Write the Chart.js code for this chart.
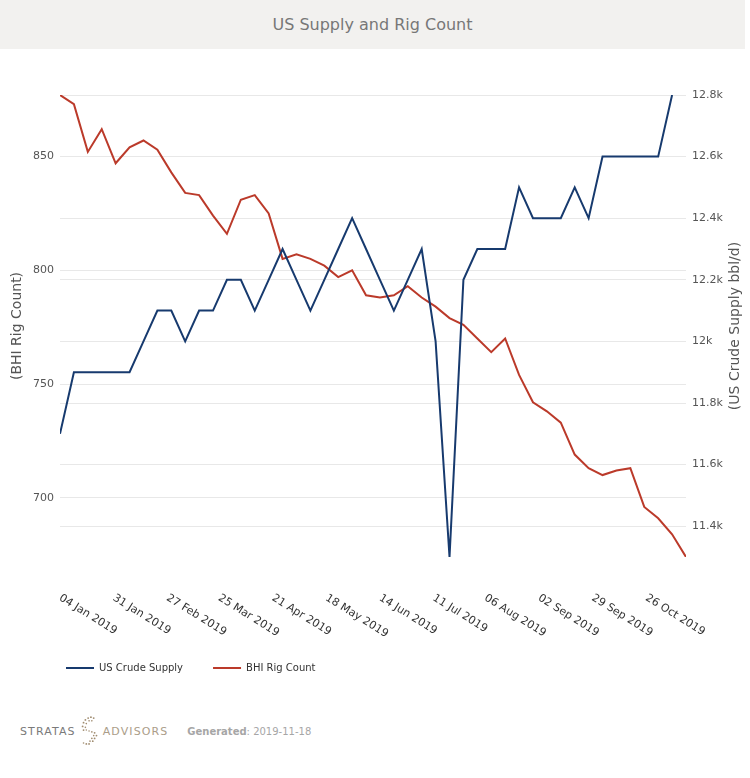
<!DOCTYPE html>
<html>
<head>
<meta charset="utf-8">
<script src="https://cdn.jsdelivr.net/npm/chart.js@4.4.0/dist/chart.umd.min.js"></script>
<style>
html,body{margin:0;padding:0;background:#fff;width:750px;height:778px;overflow:hidden;font-family:"DejaVu Sans",sans-serif;}
#band{position:absolute;left:0;top:0;width:745px;height:49px;background:#f2f1ef;}
#title{position:absolute;left:0;top:0;width:745px;height:49px;line-height:49px;text-align:center;color:#777;font-size:16px;}
#wrap{position:absolute;left:0;top:50px;width:750px;height:633px;}
#footer{position:absolute;left:20px;top:714px;height:34px;display:flex;align-items:center;white-space:nowrap;}
.brand{font-size:11px;letter-spacing:1.1px;font-weight:normal;}
#s1{color:#7a7a7a;}
#s2{color:#ab9d89;}
#gen{margin-left:19px;font-size:10px;color:#a6a6a6;}
#gen b{font-weight:bold;}
</style>
</head>
<body>
<div id="band"></div>
<div id="title">US Supply and Rig Count</div>
<div id="wrap"><canvas id="c" width="750" height="633"></canvas></div>
<div id="footer">
  <span class="brand" id="s1">STRATAS</span>
  <svg width="24" height="34" viewBox="0 0 26 34" style="margin:0 1px 0 2px">
    <g fill="#a08c70">
      <circle cx="14" cy="2" r="1"/><circle cx="11" cy="3" r="1"/><circle cx="17" cy="3" r="1"/>
      <circle cx="8" cy="5" r="1"/><circle cx="12" cy="6" r="0.9"/><circle cx="15" cy="6" r="0.9"/>
      <circle cx="6" cy="8" r="1"/><circle cx="9" cy="9" r="0.9"/><circle cx="5" cy="12" r="1"/>
      <circle cx="8" cy="13" r="0.9"/><circle cx="6" cy="16" r="1"/><circle cx="9" cy="16" r="0.8"/>
      <circle cx="12" cy="17" r="0.8"/><circle cx="15" cy="18" r="0.9"/><circle cx="18" cy="19" r="1"/>
      <circle cx="17" cy="22" r="0.9"/><circle cx="20" cy="22" r="1"/><circle cx="18" cy="25" r="1"/>
      <circle cx="15" cy="25" r="0.9"/><circle cx="16" cy="28" r="1"/><circle cx="13" cy="28" r="0.9"/>
      <circle cx="12" cy="31" r="1"/><circle cx="9" cy="31" r="1"/><circle cx="6" cy="30" r="0.9"/>
    </g>
  </svg>
  <span class="brand" id="s2">ADVISORS</span>
  <span id="gen"><b>Generated</b>: 2019-11-18</span>
</div>
<script>
// ---- data ----
const weekDates = ["2019-01-04","2019-01-11","2019-01-18","2019-01-25","2019-02-01","2019-02-08","2019-02-15","2019-02-22",
  "2019-03-01","2019-03-08","2019-03-15","2019-03-22","2019-03-29","2019-04-05","2019-04-12","2019-04-19","2019-04-26",
  "2019-05-03","2019-05-10","2019-05-17","2019-05-24","2019-05-31","2019-06-07","2019-06-14","2019-06-21","2019-06-28",
  "2019-07-05","2019-07-12","2019-07-19","2019-07-26","2019-08-02","2019-08-09","2019-08-16","2019-08-23","2019-08-30",
  "2019-09-06","2019-09-13","2019-09-20","2019-09-27","2019-10-04","2019-10-11","2019-10-18","2019-10-25",
  "2019-11-01","2019-11-08","2019-11-15"];
const crudeSupply = [11700,11900,11900,11900,11900,11900,12000,12100,12100,12000,12100,12100,12200,12200,12100,12200,
  12300,12200,12100,12200,12300,12400,12300,12200,12100,12200,12300,12000,11300,12200,12300,12300,12300,12500,12400,
  12400,12400,12500,12400,12600,12600,12600,12600,12600,12800,null];
const rigCount = [877,873,852,862,847,854,857,853,843,834,833,824,816,831,833,825,805,807,805,802,797,800,789,788,789,
  793,788,784,779,776,770,764,770,754,742,738,733,719,713,710,712,713,696,691,684,674];
const xTickDates = ["2019-01-04","2019-01-31","2019-02-27","2019-03-25","2019-04-21","2019-05-18","2019-06-14",
  "2019-07-11","2019-08-06","2019-09-02","2019-09-29","2019-10-26"];
const xTickLabels = ["04 Jan 2019","31 Jan 2019","27 Feb 2019","25 Mar 2019","21 Apr 2019","18 May 2019","14 Jun 2019",
  "11 Jul 2019","06 Aug 2019","02 Sep 2019","29 Sep 2019","26 Oct 2019"];
const rigTicks = [700,750,800,850];
const supplyTicks = [11400,11600,11800,12000,12200,12400,12600,12800];

// ---- helpers ----
const t0 = Date.parse(weekDates[0]);
const dayOf = d => (Date.parse(d) - t0) / 86400000;
const FONT = '"DejaVu Sans", sans-serif';
const supplyVals = crudeSupply.filter(v => v !== null);

const customText = {
  id: 'customText',
  afterLayout(chart) {
    const lg = chart.legend;
    if (lg) { const dx = 36 - lg.left; lg.left += dx; lg.right += dx; }
  },
  afterDraw(chart) {
    const ctx = chart.ctx, xs = chart.scales.x, area = chart.chartArea;
    ctx.save();
    ctx.font = '11px ' + FONT;
    ctx.fillStyle = '#333';
    ctx.textAlign = 'left';
    ctx.textBaseline = 'middle';
    xs.ticks.forEach((t, i) => {
      const px = xs.getPixelForValue(t.value);
      ctx.save();
      ctx.translate(px, area.bottom + 40);
      ctx.rotate(32 * Math.PI / 180);
      ctx.fillText(xTickLabels[i], 0, 0);
      ctx.restore();
    });
    ctx.font = '14px ' + FONT;
    ctx.fillStyle = '#555';
    ctx.textAlign = 'center';
    ctx.translate(735, (area.top + area.bottom) / 2);
    ctx.rotate(-Math.PI / 2);
    ctx.fillText('(US Crude Supply bbl/d)', 0, 0);
    ctx.restore();
  }
};

new Chart(document.getElementById('c'), {
  type: 'line',
  data: {
    datasets: [
      { label: 'US Crude Supply', yAxisID: 'y1',
        data: weekDates.map((d, i) => ({ x: dayOf(d), y: crudeSupply[i] })),
        borderColor: '#173a6e', backgroundColor: '#173a6e', borderWidth: 2, pointRadius: 0, tension: 0, spanGaps: false },
      { label: 'BHI Rig Count', yAxisID: 'y',
        data: weekDates.map((d, i) => ({ x: dayOf(d), y: rigCount[i] })),
        borderColor: '#bb3a2a', backgroundColor: '#bb3a2a', borderWidth: 2, pointRadius: 0, tension: 0 }
    ]
  },
  options: {
    responsive: false,
    animation: false,
    devicePixelRatio: 1,
    layout: { padding: { top: 45, left: 0, right: 0, bottom: 0 } },
    plugins: {
      tooltip: { enabled: false },
      legend: {
        position: 'bottom', align: 'start',
        labels: { usePointStyle: true, pointStyle: 'line', pointStyleWidth: 28, padding: 30,
          color: '#333', font: { family: FONT, size: 10 } }
      }
    },
    scales: {
      x: {
        type: 'linear', min: 0, max: dayOf(weekDates[weekDates.length - 1]),
        grid: { display: false }, border: { display: false },
        ticks: { display: false },
        afterBuildTicks: s => { s.ticks = xTickDates.map(d => ({ value: dayOf(d) })); },
        afterFit: s => { s.height = 76; }
      },
      y: {
        position: 'left', min: Math.min(...rigCount), max: Math.max(...rigCount),
        grid: { color: '#e8e8e8', drawTicks: false }, border: { display: false },
        ticks: { padding: 6, color: '#555', font: { family: FONT, size: 11 } },
        afterBuildTicks: s => { s.ticks = rigTicks.map(v => ({ value: v })); },
        afterFit: s => { s.width = 60; },
        title: { display: true, text: '(BHI Rig Count)', color: '#555', font: { family: FONT, size: 14 }, padding: { top: 9, bottom: 0 } }
      },
      y1: {
        position: 'right', min: Math.min(...supplyVals), max: Math.max(...supplyVals),
        grid: { color: '#e8e8e8', drawTicks: false }, border: { display: false },
        ticks: { padding: 6, color: '#555', font: { family: FONT, size: 11 }, callback: v => (v / 1000) + 'k' },
        afterBuildTicks: s => { s.ticks = supplyTicks.map(v => ({ value: v })); },
        afterFit: s => { s.width = 64; }
      }
    }
  },
  plugins: [customText]
});
</script>
</body>
</html>
